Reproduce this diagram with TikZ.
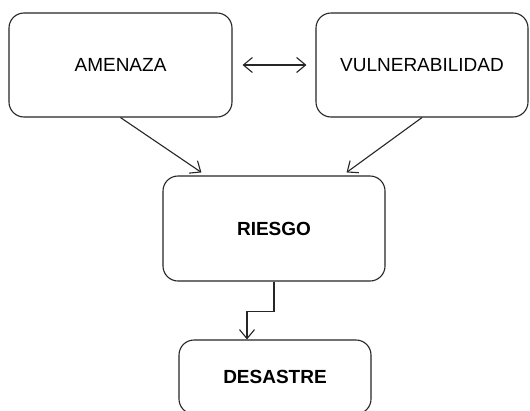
\documentclass[tikz,border=0pt]{standalone}
\usepackage{fontspec}
\setmainfont{Liberation Sans}
\usetikzlibrary{arrows.meta,calc}
\begin{document}
\begin{tikzpicture}[x=1pt,y=-1pt,
  box/.style={draw=black!85,line width=1.1pt,rounded corners=15pt,inner sep=0pt,align=center,font=\fontsize{19}{22}\selectfont},
  conn/.style={draw=black!85,line width=1.1pt,-{Straight Barb[length=9pt,width=15pt,line width=1.1pt]}}]
\useasboundingbox (0,0) rectangle (530,410);
\clip (0,0) rectangle (530,410);
\fill[white] (0,0) rectangle (530,410);
\node[box,minimum width=223pt,minimum height=104pt] (amenaza) at (120.5,65) {AMENAZA};
\node[box,minimum width=212pt,minimum height=104pt] (vuln) at (422,65) {VULNERABILIDAD};
\node[box,minimum width=222pt,minimum height=105pt,font=\bfseries\fontsize{19}{22}\selectfont] (riesgo) at (274,228.5) {RIESGO};
\node[box,minimum width=192pt,minimum height=74pt,font=\bfseries\fontsize{19}{22}\selectfont] (desastre) at (275,377) {DESASTRE};
\draw[conn,{Straight Barb[length=9pt,width=15pt,line width=1.1pt]}-{Straight Barb[length=9pt,width=15pt,line width=1.1pt]},shorten <=10pt,shorten >=9pt] (amenaza.east) -- (vuln.west);
\draw[conn] (amenaza.south) -- ([xshift=39pt,yshift=3pt]riesgo.north west);
\draw[conn] (vuln.south) -- ([xshift=-39pt,yshift=3pt]riesgo.north east);
\draw[conn] (riesgo.south) -- ++(0,30) -| ([xshift=-28pt]desastre.north);
\end{tikzpicture}
\end{document}
